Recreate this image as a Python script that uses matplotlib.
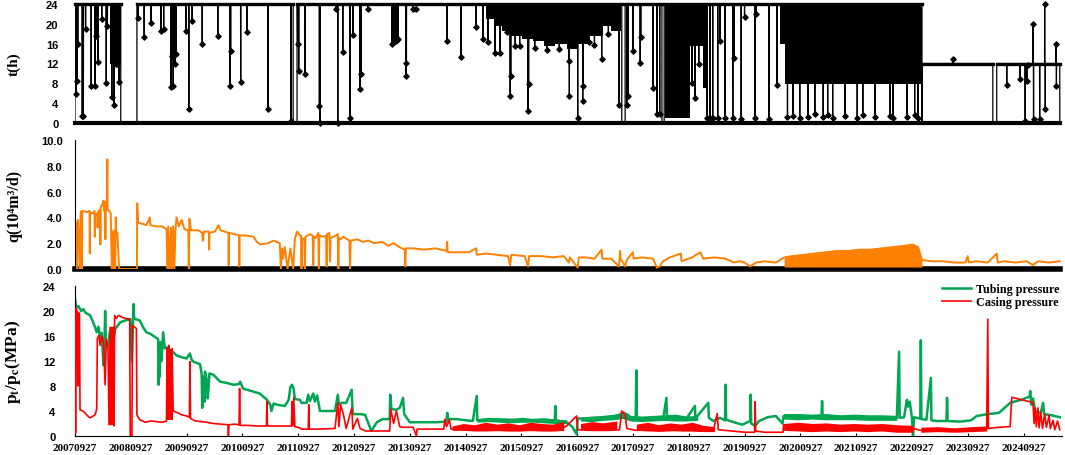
import numpy as np
import matplotlib.pyplot as plt

# x values are decimal years; tick labels are the yearly 09-27 report dates
tick_years = list(range(2007, 2025))
x_start, x_end = 2007.74, 2025.43

# ---------------- t(h): daily production hours ----------------
# (start, end, hours) of each producing stretch, the well is at 0 between them
t_blocks = [
    (2007.74, 2008.56, 24), (2008.85, 2011.65, 24), (2011.72, 2017.54, 24),
    (2017.60, 2018.26, 24), (2018.30, 2022.92, 24), (2022.92, 2024.19, 12),
    (2024.26, 2025.39, 12),
]
# single-day readings that differ from the stretch level: (year, hours)
t_dips = [
    (2007.76, 5.8), (2007.78, 8.5), (2007.79, 16), (2007.87, 1.5), (2007.89, 1.5),
    (2007.93, 19), (2008.03, 7.4), (2008.10, 7.4), (2008.12, 17.6), (2008.15, 12.4),
    (2008.22, 21), (2008.30, 8), (2008.32, 19.5), (2008.40, 5.2), (2008.44, 3.6),
    (2008.47, 12), (2008.50, 12), (2008.53, 8.2),
    (2008.87, 21.2), (2008.98, 17.3), (2009.10, 20.2), (2009.28, 18.5), (2009.33, 19),
    (2009.46, 7.2), (2009.48, 13.6), (2009.50, 7.5), (2009.53, 12), (2009.55, 14),
    (2009.73, 18.6), (2009.78, 2.8), (2009.84, 20.6), (2010.02, 15.9), (2010.30, 17.6),
    (2010.52, 7.5), (2010.53, 14.6), (2010.71, 8.2), (2010.82, 18.3), (2011.20, 2.8),
    (2011.61, 0.5),
    (2011.73, 16), (2011.75, 10.5), (2011.86, 9.9), (2012.12, 3.5), (2012.13, 0),
    (2012.42, 23), (2012.45, 0), (2012.54, 14.4), (2012.67, 1.1), (2012.72, 17.7),
    (2012.85, 6.9), (2012.87, 9.9), (2012.99, 23), (2013.42, 16), (2013.46, 17),
    (2013.50, 16.5), (2013.53, 17), (2013.67, 9.5), (2013.68, 12.2), (2013.80, 23),
    (2013.86, 23), (2014.41, 16.6), (2014.66, 13.4), (2014.93, 19.3), (2015.05, 16.9),
    (2015.14, 16.3), (2015.27, 14.2), (2015.36, 14.2), (2015.41, 21), (2015.48, 18.3),
    (2015.54, 5.5), (2015.55, 9.5), (2015.63, 15.5), (2015.71, 15.5), (2015.86, 2.5),
    (2015.87, 7.9), (2015.98, 15.2), (2016.20, 14.8), (2016.42, 15.0), (2016.59, 12.6),
    (2016.60, 5.5), (2016.75, 1.1), (2016.84, 4.5), (2016.85, 7.5), (2016.95, 16.3),
    (2017.05, 15.8), (2017.18, 12.9), (2017.30, 18.0), (2017.49, 3.6),
    (2017.63, 3.6), (2017.65, 5.5), (2017.74, 14.6), (2017.87, 12.2), (2017.88, 17.3),
    (2018.10, 7), (2018.17, 1.8), (2018.22, 1.8),
    (2018.80, 8), (2018.85, 5), (2018.92, 12), (2019.07, 1.1), (2019.12, 1.1),
    (2019.17, 1.1), (2019.26, 1.1), (2019.30, 16.6), (2019.39, 1.1), (2019.53, 1.1),
    (2019.55, 13.2), (2019.68, 0.8), (2019.74, 21.3), (2019.93, 1.1), (2019.95, 22),
    (2020.18, 0.8), (2020.32, 7.7),
    (2020.51, 1.2), (2020.61, 1.5), (2020.73, 1.0), (2020.88, 1.3), (2021.00, 1.8),
    (2021.15, 1.2), (2021.23, 1.6), (2021.32, 1.0), (2021.54, 1.4), (2021.76, 1.1),
    (2021.86, 1.7), (2022.08, 1.2), (2022.35, 1.5), (2022.40, 1.0), (2022.65, 1.3),
    (2022.79, 1.6), (2022.85, 1.1),
    (2023.47, 12.9), (2024.44, 7.7), (2024.68, 8.9), (2024.77, 0.5), (2024.80, 8.5),
    (2024.82, 11.6), (2024.91, 20), (2024.92, 0.8), (2025.03, 0.8), (2025.12, 24),
    (2025.13, 2.8), (2025.32, 16), (2025.33, 7.5),
]
# stretches that print as solid black: (start, end, lowest hours)
t_dense = [
    (2007.74, 2007.80, 16.0), (2008.36, 2008.56, 12.0), (2009.44, 2009.56, 13.5),
    (2013.40, 2013.54, 16.5), (2015.10, 2015.25, 21.0), (2015.25, 2015.40, 19.5),
    (2015.40, 2015.55, 18.5), (2015.55, 2015.75, 17.5), (2015.75, 2015.95, 17.0),
    (2015.95, 2016.15, 16.5), (2016.15, 2016.35, 15.5), (2016.35, 2016.55, 16.0),
    (2016.55, 2016.75, 15.0), (2016.75, 2016.95, 16.0), (2016.95, 2017.20, 17.5),
    (2017.20, 2017.35, 19.5), (2017.35, 2017.52, 18.5),
    (2018.32, 2018.76, 1.0), (2018.76, 2019.00, 15.5), (2019.00, 2019.08, 7.0),
    (2020.38, 2020.47, 16.0), (2020.47, 2022.92, 7.8),
]

# ---------------- q: daily gas rate, 10^4 m3/d ----------------
q_rate = [
    (2007.74, 0.0), (2007.75, 3.6), (2007.77, 2.4), (2007.78, 0.0), (2007.79, 3.8),
    (2007.81, 2.6), (2007.83, 0.0), (2007.84, 4.3), (2007.86, 4.5), (2007.865, 0.0),
    (2007.87, 4.4), (2007.89, 4.5), (2007.95, 4.4), (2008.00, 4.5), (2008.005, 1.2),
    (2008.01, 4.4), (2008.06, 4.3), (2008.09, 4.5), (2008.095, 2.5), (2008.10, 4.2),
    (2008.14, 4.3), (2008.145, 3.2), (2008.15, 4.4), (2008.19, 4.6), (2008.195, 1.9),
    (2008.20, 4.8), (2008.23, 5.0), (2008.25, 5.3), (2008.26, 4.5), (2008.28, 5.2),
    (2008.285, 2.3), (2008.29, 4.7), (2008.31, 4.6), (2008.32, 8.5), (2008.325, 4.6),
    (2008.36, 4.5), (2008.38, 4.3), (2008.40, 0.0), (2008.41, 2.8), (2008.42, 0.0),
    (2008.43, 3.0), (2008.45, 2.7), (2008.46, 0.0), (2008.47, 4.0), (2008.48, 2.7),
    (2008.50, 2.8), (2008.53, 0.0), (2008.85, 0.0), (2008.855, 5.1), (2008.87, 3.6),
    (2008.95, 3.5), (2009.02, 3.4), (2009.08, 4.0), (2009.09, 3.4), (2009.20, 3.3),
    (2009.30, 3.3), (2009.38, 3.1), (2009.40, 0.0), (2009.41, 3.3), (2009.44, 0.0),
    (2009.46, 3.2), (2009.48, 0.0), (2009.50, 3.3), (2009.52, 0.0), (2009.54, 3.0),
    (2009.56, 4.0), (2009.60, 3.3), (2009.65, 3.8), (2009.70, 3.1), (2009.77, 3.0),
    (2009.78, 0.0), (2009.79, 3.9), (2009.82, 3.0), (2009.95, 3.0), (2010.02, 2.8),
    (2010.03, 2.2), (2010.05, 2.9), (2010.14, 2.9), (2010.145, 1.5), (2010.15, 2.8),
    (2010.25, 2.9), (2010.31, 3.4), (2010.35, 3.0), (2010.49, 2.8), (2010.495, 0.3),
    (2010.50, 2.8), (2010.60, 2.7), (2010.68, 2.6), (2010.685, 0.2), (2010.69, 2.6),
    (2010.80, 2.6), (2010.94, 2.5), (2011.00, 2.1), (2011.06, 1.9), (2011.20, 2.0),
    (2011.30, 2.2), (2011.41, 2.0), (2011.43, 0.0), (2011.45, 1.6), (2011.47, 0.8),
    (2011.50, 1.7), (2011.55, 0.0), (2011.60, 1.6), (2011.65, 0.0), (2011.68, 2.3),
    (2011.72, 2.9), (2011.77, 2.6), (2011.79, 2.6), (2011.80, 0.0), (2011.81, 2.4),
    (2011.85, 2.3), (2011.86, 0.0), (2011.87, 2.5), (2011.95, 2.7), (2012.00, 2.6),
    (2012.01, 0.3), (2012.02, 2.5), (2012.05, 2.4), (2012.10, 2.8), (2012.11, 0.0),
    (2012.12, 2.6), (2012.20, 2.5), (2012.24, 2.6), (2012.25, 0.2), (2012.26, 2.7),
    (2012.30, 2.8), (2012.31, 0.6), (2012.32, 2.4), (2012.42, 2.6), (2012.45, 2.7),
    (2012.46, 0.0), (2012.47, 2.4), (2012.50, 2.3), (2012.55, 2.5), (2012.66, 2.2),
    (2012.67, 0.0), (2012.68, 2.2), (2012.80, 2.3), (2012.90, 2.1), (2013.00, 2.2),
    (2013.10, 2.0), (2013.25, 2.1), (2013.35, 1.8), (2013.45, 2.0), (2013.55, 1.7),
    (2013.65, 1.5), (2013.66, 0.2), (2013.67, 1.6), (2013.80, 1.6), (2014.00, 1.5),
    (2014.20, 1.6), (2014.40, 1.4), (2014.41, 2.1), (2014.42, 1.3), (2014.60, 1.3),
    (2014.80, 1.3), (2014.93, 1.6), (2014.94, 1.1), (2015.10, 1.2), (2015.30, 1.1),
    (2015.50, 1.0), (2015.54, 0.3), (2015.56, 1.1), (2015.80, 1.0), (2015.86, 0.2),
    (2015.88, 1.0), (2016.10, 1.0), (2016.30, 0.9), (2016.50, 1.0), (2016.59, 0.5),
    (2016.61, 0.9), (2016.75, 0.1), (2016.77, 0.9), (2016.90, 0.9), (2017.05, 0.8),
    (2017.18, 1.5), (2017.19, 0.8), (2017.35, 0.8), (2017.49, 0.2), (2017.51, 1.4),
    (2017.52, 0.8), (2017.60, 0.2), (2017.63, 0.7), (2017.74, 1.3), (2017.75, 0.8),
    (2017.90, 0.9), (2018.10, 0.8), (2018.17, 0.1), (2018.22, 0.2), (2018.28, 0.6),
    (2018.40, 0.9), (2018.60, 1.2), (2018.61, 0.6), (2018.80, 0.9), (2018.95, 1.3),
    (2019.00, 0.8), (2019.20, 0.9), (2019.40, 0.8), (2019.55, 0.5), (2019.65, 0.6),
    (2019.74, 0.5), (2019.84, 0.2), (2019.95, 0.5), (2020.10, 0.6), (2020.30, 0.5),
    (2020.45, 0.9), (2020.60, 1.0), (2020.80, 1.1), (2021.00, 1.2), (2021.20, 1.3),
    (2021.40, 1.4), (2021.60, 1.4), (2021.80, 1.5), (2022.00, 1.5), (2022.20, 1.6),
    (2022.40, 1.7), (2022.60, 1.8), (2022.75, 1.9), (2022.85, 1.7), (2022.92, 0.7),
    (2023.10, 0.6), (2023.30, 0.6), (2023.50, 0.5), (2023.70, 0.5), (2023.74, 1.0),
    (2023.76, 0.5), (2023.90, 0.6), (2024.10, 0.5), (2024.26, 1.2), (2024.28, 0.5),
    (2024.40, 0.6), (2024.60, 0.5), (2024.80, 0.6), (2024.91, 0.3), (2025.00, 0.6),
    (2025.20, 0.5), (2025.39, 0.6),
]
# stretch where daily rate fluctuates so fast it prints as a solid orange area
q_solid = (2020.45, 2022.92)

# ---------------- pressures, MPa ----------------
tubing = [
    (2007.74, 22.1), (2007.76, 20.5), (2007.80, 20.8), (2007.85, 20.0), (2007.89, 20.3),
    (2007.92, 19.8), (2007.97, 19.5), (2008.01, 19.3), (2008.05, 18.5), (2008.10, 17.4),
    (2008.13, 16.6), (2008.16, 17.5), (2008.19, 15.8), (2008.22, 16.5), (2008.25, 11.3),
    (2008.27, 15.0), (2008.28, 20.0), (2008.29, 15.5), (2008.31, 14.2), (2008.34, 15.0),
    (2008.37, 16.9), (2008.40, 14.8), (2008.43, 15.5), (2008.46, 17.1), (2008.50, 17.6),
    (2008.55, 18.2), (2008.65, 18.5), (2008.73, 18.7), (2008.76, 11.9), (2008.78, 18.5),
    (2008.79, 21.1), (2008.80, 18.9), (2008.82, 18.7), (2008.90, 18.5), (2008.96, 17.4),
    (2009.02, 16.6), (2009.10, 16.3), (2009.18, 15.8), (2009.23, 15.5), (2009.24, 8.2),
    (2009.25, 13.0), (2009.26, 9.5), (2009.27, 15.0), (2009.29, 12.0), (2009.32, 16.6),
    (2009.35, 14.0), (2009.38, 14.2), (2009.45, 13.6), (2009.50, 13.4), (2009.56, 12.9),
    (2009.65, 12.6), (2009.74, 12.4), (2009.80, 13.2), (2009.83, 12.2), (2009.86, 11.9),
    (2009.98, 11.5), (2010.01, 10.0), (2010.02, 4.5), (2010.04, 9.5), (2010.06, 5.5),
    (2010.07, 10.3), (2010.10, 9.0), (2010.12, 6.0), (2010.15, 10.0), (2010.22, 9.8),
    (2010.34, 8.7), (2010.45, 8.5), (2010.58, 8.2), (2010.68, 8.3), (2010.70, 8.7),
    (2010.75, 7.6), (2010.90, 7.2), (2011.05, 6.8), (2011.18, 5.8), (2011.24, 5.0),
    (2011.26, 4.0), (2011.30, 5.2), (2011.36, 5.0), (2011.50, 4.8), (2011.57, 5.8),
    (2011.60, 7.8), (2011.63, 8.2), (2011.66, 7.5), (2011.68, 5.9), (2011.77, 5.8),
    (2011.80, 5.3), (2011.89, 5.3), (2011.92, 6.6), (2011.95, 5.6), (2012.01, 6.8),
    (2012.04, 5.5), (2012.08, 6.5), (2012.13, 4.0), (2012.25, 4.0), (2012.40, 4.0),
    (2012.45, 6.6), (2012.47, 5.0), (2012.52, 5.3), (2012.60, 5.3), (2012.70, 7.4),
    (2012.71, 5.0), (2012.72, 3.5), (2012.85, 3.5), (2012.94, 3.4), (2013.00, 2.0),
    (2013.05, 0.8), (2013.10, 1.5), (2013.15, 2.2), (2013.25, 2.7), (2013.38, 2.7),
    (2013.39, 6.6), (2013.41, 4.3), (2013.50, 4.2), (2013.56, 4.5), (2013.62, 6.1),
    (2013.64, 3.5), (2013.74, 2.2), (2013.98, 2.2), (2014.20, 2.2), (2014.40, 2.3),
    (2014.41, 3.7), (2014.43, 2.7), (2014.58, 2.7), (2014.75, 2.5), (2014.87, 2.4),
    (2014.94, 6.4), (2014.95, 2.5), (2015.20, 2.6), (2015.50, 2.6), (2015.80, 2.5),
    (2016.10, 2.6), (2016.34, 2.5), (2016.35, 4.8), (2016.36, 2.5), (2016.55, 2.2),
    (2016.65, 1.5), (2016.73, 0.3), (2016.75, 2.8), (2017.00, 2.8), (2017.30, 2.9),
    (2017.50, 3.3), (2017.56, 3.7), (2017.65, 3.4), (2017.74, 2.5), (2017.79, 3.0),
    (2017.80, 10.5), (2017.81, 2.7), (2018.00, 2.7), (2018.28, 2.7), (2018.34, 6.1),
    (2018.35, 2.8), (2018.52, 3.0), (2018.70, 2.8), (2018.85, 4.8), (2018.86, 2.8),
    (2019.09, 5.3), (2019.10, 2.9), (2019.18, 2.4), (2019.30, 2.9), (2019.39, 2.5),
    (2019.40, 8.2), (2019.41, 2.6), (2019.55, 2.2), (2019.70, 1.8), (2019.84, 2.4),
    (2019.85, 6.6), (2019.86, 2.0), (2019.93, 1.6), (2020.00, 2.4), (2020.15, 3.0),
    (2020.30, 3.2), (2020.42, 2.0), (2020.44, 3.2), (2020.70, 3.2), (2021.00, 3.1),
    (2021.12, 3.2), (2021.13, 5.6), (2021.14, 3.1), (2021.50, 3.0), (2022.00, 3.0),
    (2022.47, 2.9), (2022.51, 13.5), (2022.52, 2.9), (2022.60, 3.0), (2022.65, 5.8),
    (2022.67, 4.7), (2022.70, 5.5), (2022.74, 3.0), (2022.76, 0.0), (2022.78, 3.0),
    (2022.89, 2.8), (2022.90, 15.3), (2022.91, 2.7), (2023.00, 2.6), (2023.08, 9.3),
    (2023.09, 2.5), (2023.20, 2.4), (2023.36, 2.4), (2023.37, 6.1), (2023.38, 2.4),
    (2023.60, 2.3), (2023.80, 2.5), (2023.90, 3.2), (2024.10, 3.5), (2024.30, 3.7),
    (2024.50, 5.3), (2024.70, 5.8), (2024.85, 6.3), (2024.86, 7.2), (2024.88, 5.0),
    (2024.91, 6.0), (2024.95, 3.9), (2025.05, 3.7), (2025.09, 5.3), (2025.11, 3.5),
    (2025.25, 3.3), (2025.39, 3.0),
]
casing = [
    (2007.74, 19.5), (2007.75, 0.5), (2007.76, 20.5), (2007.78, 19.8), (2007.79, 8.0),
    (2007.80, 19.8), (2007.82, 19.5), (2007.83, 4.2), (2007.88, 4.0), (2007.93, 3.6),
    (2007.97, 3.2), (2008.01, 2.9), (2008.05, 3.1), (2008.10, 3.4), (2008.12, 4.0),
    (2008.13, 4.5), (2008.14, 15.6), (2008.17, 16.1), (2008.19, 14.5), (2008.22, 16.0),
    (2008.25, 15.0), (2008.28, 8.2), (2008.30, 15.5), (2008.33, 14.5), (2008.35, 1.8),
    (2008.37, 17.4), (2008.38, 1.8), (2008.40, 17.0), (2008.41, 2.0), (2008.43, 17.4),
    (2008.44, 1.6), (2008.45, 19.3), (2008.48, 18.8), (2008.52, 19.3), (2008.58, 19.0),
    (2008.65, 18.8), (2008.72, 18.7), (2008.73, 0.0), (2008.76, 0.0), (2008.77, 17.7),
    (2008.84, 17.2), (2008.85, 3.4), (2008.90, 2.6), (2009.00, 2.2), (2009.10, 2.4),
    (2009.20, 2.3), (2009.30, 2.2), (2009.38, 2.4), (2009.39, 14.0), (2009.41, 3.0),
    (2009.42, 14.5), (2009.44, 3.5), (2009.45, 13.5), (2009.47, 4.0), (2009.48, 14.0),
    (2009.50, 4.0), (2009.56, 3.8), (2009.65, 3.4), (2009.74, 3.2), (2009.79, 3.0),
    (2009.80, 11.9), (2009.81, 2.8), (2009.90, 2.4), (2010.00, 2.3), (2010.10, 2.2),
    (2010.22, 2.0), (2010.35, 1.9), (2010.48, 1.8), (2010.49, 0.0), (2010.50, 1.8),
    (2010.60, 1.9), (2010.68, 1.8), (2010.69, 7.6), (2010.70, 1.7), (2010.85, 1.7),
    (2011.00, 1.6), (2011.17, 1.6), (2011.18, 5.5), (2011.19, 1.6), (2011.35, 1.6),
    (2011.50, 1.6), (2011.62, 1.6), (2011.63, 5.5), (2011.64, 1.6), (2011.66, 6.1),
    (2011.68, 1.5), (2011.77, 1.3), (2011.80, 1.1), (2011.92, 1.1), (2011.93, 5.0),
    (2011.94, 1.1), (2012.10, 1.1), (2012.40, 1.2), (2012.45, 5.3), (2012.47, 1.5),
    (2012.50, 5.0), (2012.55, 3.5), (2012.60, 1.2), (2012.70, 4.5), (2012.72, 1.1),
    (2012.80, 2.8), (2012.85, 1.2), (2012.95, 0.8), (2013.20, 0.8), (2013.38, 0.8),
    (2013.40, 4.3), (2013.45, 2.0), (2013.50, 4.0), (2013.56, 1.5), (2013.60, 1.4),
    (2013.80, 1.4), (2013.86, 0.0), (2013.87, 1.1), (2014.20, 1.1), (2014.35, 1.1),
    (2014.37, 2.7), (2014.40, 1.5), (2014.45, 2.6), (2014.48, 1.1), (2014.80, 1.0),
    (2015.20, 0.9), (2015.60, 0.9), (2016.00, 0.9), (2016.40, 0.9), (2016.55, 1.6),
    (2016.65, 2.5), (2016.73, 3.2), (2016.75, 1.0), (2017.00, 0.9), (2017.30, 0.9),
    (2017.50, 1.0), (2017.54, 4.0), (2017.60, 3.5), (2017.63, 1.2), (2017.80, 0.9),
    (2018.00, 1.0), (2018.20, 0.8), (2018.50, 0.9), (2018.80, 0.9), (2019.00, 0.8),
    (2019.18, 0.8), (2019.25, 3.6), (2019.27, 1.0), (2019.50, 0.8), (2019.75, 0.6),
    (2019.92, 0.6), (2019.93, 5.5), (2019.94, 0.8), (2020.10, 0.6), (2020.43, 0.6),
    (2020.44, 1.8), (2021.00, 1.5), (2021.50, 1.5), (2022.00, 1.4), (2022.47, 1.4),
    (2022.76, 1.2), (2022.90, 0.9), (2023.20, 1.0), (2023.60, 1.0), (2024.08, 1.1),
    (2024.10, 18.7), (2024.11, 1.2), (2024.30, 1.4), (2024.50, 1.5), (2024.53, 6.2),
    (2024.70, 5.8), (2024.85, 5.5), (2024.91, 5.3), (2024.93, 2.0), (2024.95, 4.5),
    (2024.97, 1.5), (2025.00, 4.5), (2025.02, 1.3), (2025.05, 3.8), (2025.08, 1.2),
    (2025.12, 3.5), (2025.15, 1.4), (2025.20, 3.3), (2025.22, 1.2), (2025.27, 2.5),
    (2025.30, 1.0), (2025.35, 2.4), (2025.39, 1.0),
]
# stretches where the daily readings scatter into a solid band: [(year, low, high), ...]
tubing_bands = [
    [(2014.95, 2.2, 2.8), (2015.15, 2.3, 3.0), (2015.35, 2.2, 2.9), (2015.55, 2.1, 2.8),
     (2015.75, 2.2, 3.0), (2015.95, 2.2, 2.8), (2016.15, 2.1, 2.9), (2016.35, 2.0, 2.7),
     (2016.55, 2.0, 2.6)],
    [(2016.80, 2.4, 3.0), (2017.00, 2.3, 3.2), (2017.20, 2.5, 3.3), (2017.40, 2.6, 3.5),
     (2017.55, 2.8, 3.8), (2017.70, 2.4, 3.3), (2017.90, 2.3, 3.2), (2018.10, 2.4, 3.3),
     (2018.30, 2.5, 3.4), (2018.50, 2.4, 3.5), (2018.70, 2.4, 3.2), (2018.90, 2.5, 3.3)],
    [(2020.44, 2.7, 3.6), (2020.70, 2.6, 3.6), (2020.95, 2.7, 3.5), (2021.20, 2.6, 3.6),
     (2021.45, 2.6, 3.4), (2021.70, 2.6, 3.5), (2021.95, 2.5, 3.4), (2022.20, 2.5, 3.4),
     (2022.47, 2.5, 3.3)],
]
casing_bands = [
    [(2008.36, 1.8, 17.4), (2008.46, 1.8, 17.4)],
    [(2009.38, 2.5, 14.0), (2009.50, 2.5, 14.0)],
    [(2014.50, 0.9, 1.6), (2014.70, 0.9, 2.0), (2014.90, 0.8, 1.8), (2015.10, 0.8, 2.2),
     (2015.30, 0.9, 1.9), (2015.50, 0.8, 2.1), (2015.70, 0.8, 1.8), (2015.90, 0.9, 2.2),
     (2016.10, 0.8, 2.0), (2016.30, 0.8, 1.9), (2016.50, 0.9, 2.3)],
    [(2016.80, 1.0, 2.0), (2017.00, 0.9, 2.3), (2017.20, 1.0, 2.1), (2017.45, 1.0, 2.4)],
    [(2017.80, 0.9, 1.9), (2018.00, 0.8, 2.2), (2018.20, 0.8, 1.8), (2018.40, 0.9, 2.1),
     (2018.60, 0.8, 1.9), (2018.80, 0.8, 2.2), (2019.00, 0.7, 1.7), (2019.20, 0.7, 1.5)],
    [(2020.44, 0.9, 2.0), (2020.70, 0.8, 2.2), (2020.95, 0.7, 2.0), (2021.20, 0.8, 2.1),
     (2021.45, 0.7, 1.9), (2021.70, 0.8, 2.0), (2021.95, 0.7, 1.9), (2022.20, 0.8, 2.0),
     (2022.47, 0.6, 1.8), (2022.76, 0.6, 1.7)],
    [(2022.90, 0.6, 1.4), (2023.20, 0.7, 1.5), (2023.50, 0.6, 1.3), (2023.80, 0.7, 1.5),
     (2024.08, 0.8, 1.6)],
]

GREEN = '#00a651'
RED = '#ff0000'
ORANGE = '#ff8000'

plt.rcParams['mathtext.fontset'] = 'stix'
serif = 'Liberation Serif'
sans = 'Liberation Sans'


def build_t(blocks, dips):
    day = 1 / 365
    xs, ys = [], []
    for s, e, lvl in blocks:
        xs += [s, s]
        ys += [0, lvl]
        for x, v in sorted(d for d in dips if s < d[0] < e):
            xs += [x - day, x, x + day]
            ys += [lvl, v, lvl]
        xs += [e, e]
        ys += [lvl, 0]
    return xs, ys


def fill_bands(ax, bands, color, z):
    for band in bands:
        bx = [b[0] for b in band]
        ax.fill_between(bx, [b[1] for b in band], [b[2] for b in band],
                        color=color, lw=0, zorder=z)


fig = plt.figure(figsize=(10.65, 4.56), dpi=100)
L, W = 75 / 1065, (1062 - 75) / 1065
ax1 = fig.add_axes([L, 1 - 124 / 456, W, 119 / 456])
ax2 = fig.add_axes([L, 1 - 270 / 456, W, 129 / 456])
ax3 = fig.add_axes([L, 1 - 437 / 456, W, 150 / 456])

# --- t(h) ---
tx, ty = build_t(t_blocks, t_dips)
ax1.plot([x_start, x_end - 0.04], [0, 0], color='k', lw=3, clip_on=False, zorder=3)
ax1.plot(tx, ty, color='k', lw=0.9, zorder=2)
for s, e, lvl in t_blocks:
    ax1.plot([s, e], [lvl, lvl], color='k', lw=2.4, clip_on=False, zorder=3)
for s, e, low in t_dense:
    ax1.fill_between([s, e], low, 24, color='k', lw=0, zorder=2)
ax1.scatter([d[0] for d in t_dips], [d[1] for d in t_dips], marker='D', s=7,
            color='k', zorder=4, clip_on=False)
ax1.set_ylim(0, 24)
ax1.set_yticks(range(0, 25, 4))
ax1.set_ylabel('t(h)', family=serif, fontweight='bold', fontsize=11)
ax1.yaxis.set_label_coords(-0.055, 0.5)

# --- q ---
qx = np.array([p[0] for p in q_rate])
qy = np.array([p[1] for p in q_rate])
ax2.plot([x_start, x_end - 0.04], [0, 0], color='k', lw=4, clip_on=False, zorder=1)
ax2.plot(qx, qy, color=ORANGE, lw=1.4, zorder=2)
m = (qx >= q_solid[0]) & (qx <= q_solid[1])
ax2.fill_between(qx[m], 0.15, qy[m], color=ORANGE, lw=0, zorder=2)
ax2.set_ylim(0, 10)
ax2.set_yticks(range(0, 11, 2))
ax2.set_yticklabels(['%.1f' % v for v in range(0, 11, 2)])
ax2.set_ylabel('q(10\u2074m\u00b3/d)', family=[serif, 'DejaVu Serif'],
               fontweight='bold', fontsize=11.5)
ax2.yaxis.set_label_coords(-0.053, 0.5)

# --- pressures ---
fill_bands(ax3, tubing_bands, GREEN, 2)
ax3.plot([p[0] for p in tubing], [p[1] for p in tubing], color=GREEN, lw=1.8,
         zorder=2, label='Tubing pressure')
fill_bands(ax3, casing_bands, RED, 3)
ax3.plot([p[0] for p in casing], [p[1] for p in casing], color=RED, lw=1.2,
         zorder=3, label='Casing pressure')
ax3.set_ylim(0, 24)
ax3.set_yticks(range(0, 25, 4))
ax3.set_ylabel(r'p$_{\mathbf{t}}$/p$_{\mathbf{c}}$(MPa)', family=serif,
               fontweight='bold', fontsize=12.5)
ax3.yaxis.set_label_coords(-0.053, 0.5)
ax3.legend(loc='upper right', bbox_to_anchor=(1.005, 1.07), frameon=False,
           prop={'family': serif, 'weight': 'bold', 'size': 8.7},
           handlelength=2.4, handletextpad=0.4, labelspacing=0.1,
           borderaxespad=0.2)

ticks = [y + 0.74 for y in tick_years]
for ax in (ax1, ax2, ax3):
    ax.set_xlim(x_start, x_end)
    ax.set_xticks(ticks)
    for sp in ('top', 'right'):
        ax.spines[sp].set_visible(False)
    ax.spines['left'].set_linewidth(0.8)
    ax.tick_params(axis='y', length=0, labelsize=8)
    for lab in ax.get_yticklabels():
        lab.set_fontfamily(sans)
        lab.set_fontweight('bold')
ax1.tick_params(axis='y', pad=12)
ax2.tick_params(axis='y', pad=9)
ax3.tick_params(axis='y', pad=14)
for ax in (ax1, ax2):
    ax.spines['bottom'].set_visible(False)
    ax.tick_params(axis='x', length=0, labelbottom=False)
ax1.spines['left'].set_visible(False)
ax3.spines['bottom'].set_linewidth(0.8)
ax3.tick_params(axis='x', direction='in', length=2.5, width=0.8, pad=5)
ax3.set_xticklabels(['%d0927' % y for y in tick_years], family=serif,
                    fontweight='bold', fontsize=8)

fig.savefig('out.png', dpi=100)
